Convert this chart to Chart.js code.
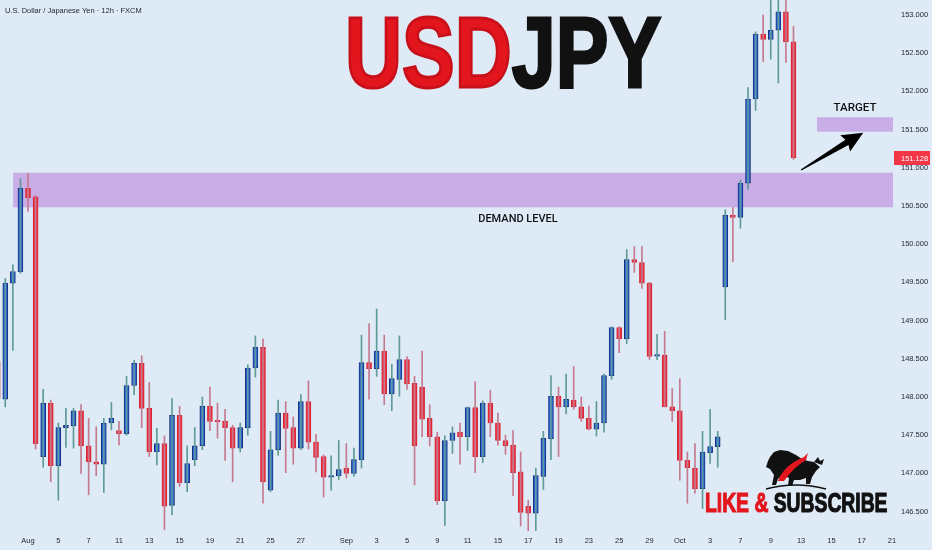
<!DOCTYPE html>
<html>
<head>
<meta charset="utf-8">
<script src="https://cdn.jsdelivr.net/npm/chart.js@4.4.1/dist/chart.umd.min.js"></script>
<style>
  html, body { margin: 0; padding: 0; background: #deebf7; }
  #wrap { position: relative; width: 932px; height: 550px; overflow: hidden; background: #deebf7; }
  #c { position: absolute; left: 0; top: 0; }
  .ov { position: absolute; white-space: nowrap; pointer-events: none; line-height: 1; }
  #sym { left: 5px; top: 6px; font: 7.5px "Liberation Sans", sans-serif; color: #1e222d; }
  #title { left: 345px; top: -5px; font: bold 100px "Liberation Sans", sans-serif; transform: scaleX(0.79); transform-origin: left top; -webkit-text-stroke: 3px currentColor; }
  #title .r { color: #e3161e; -webkit-text-stroke: 3px #c8101a; }
  #title .k { color: #111; }
  #demand { left: 518px; top: 212px; transform: translateX(-50%); font: 500 11px Roboto, sans-serif; color: #111; }
  #target { left: 855px; top: 100px; transform: translateX(-50%); font: 500 11.5px Roboto, sans-serif; color: #111; }
  #like { left: 705px; top: 487px; font: bold 28px "Liberation Sans", sans-serif; transform: scaleX(0.69); transform-origin: left top; -webkit-text-stroke: 1.2px currentColor; }
  #like .r { color: #e3161e; }
  #like .k { color: #111; }
  #icon { position: absolute; left: 764px; top: 447px; }
</style>
</head>
<body>
<div id="wrap">
  <canvas id="c" width="932" height="550"></canvas>
  <div class="ov" id="sym">U.S. Dollar / Japanese Yen · 12h · FXCM</div>
  <div class="ov" id="title"><span class="r">USD</span><span class="k">JPY</span></div>
  <div class="ov" id="demand">DEMAND LEVEL</div>
  <div class="ov" id="target">TARGET</div>
  <svg id="icon" width="64" height="44" viewBox="0 0 64 44">
    <path d="M6 10 L10 5 L16 3 L24 4 L32 8 L38 12 L44 14 L50 15 L56 20 L52 24 L48 30 L46 37 L42 37 L42 31 L36 33 L30 33 L28 39 L24 39 L25 31 L18 28 L14 32 L12 38 L8 38 L10 28 L6 22 L2 20 L4 14 Z" fill="#111"/>
    <path d="M14 34 Q20 18 40 10 L44 6 L42 13 Q30 20 20 34 Z" fill="#e3161e"/>
    <path d="M50 15 L54 10 L56 14 L60 12 L58 18 Z" fill="#111"/>
    <path d="M2 42 Q32 34 62 42" stroke="#111" stroke-width="1.5" fill="none"/>
  </svg>
  <div class="ov" id="like"><span class="r">LIKE &amp; </span><span class="k">SUBSCRIBE</span></div>
</div>
<script>
// OHLC de cada vela de 12h (índice 0 = primeira vela visível, fim de julho)
const opens  = [148.46,147.97,149.49,149.64,150.73,150.62,147.22,147.92,147.10,147.60,
                147.62,147.82,147.36,147.15,147.12,147.66,147.56,147.52,148.15,148.44,
                147.85,147.28,147.39,146.58,147.76,146.88,147.18,147.36,147.88,147.69,
                147.68,147.60,147.33,147.60,148.38,148.65,146.78,147.31,147.79,147.60,
                147.33,147.94,147.41,147.22,146.95,146.97,147.07,147.00,147.18,148.45,
                148.37,148.60,148.04,148.23,148.49,148.18,148.13,147.72,147.48,146.64,
                147.43,147.54,147.48,147.86,147.22,147.92,147.66,147.43,147.37,147.02,
                146.57,146.48,146.96,147.45,148.01,147.87,147.96,147.87,147.72,147.58,
                147.66,148.28,148.91,148.76,149.80,149.76,149.49,148.535,148.55,147.87,
                147.82,147.17,147.07,146.80,147.27,147.35,149.44,150.38,150.35,150.80,
                151.90,152.75,152.68,152.80,153.04,152.65];
const highs  = [148.55,149.55,149.73,150.86,150.93,150.64,148.10,147.96,147.66,147.85,
                147.85,147.90,147.72,147.61,147.72,147.93,147.68,148.27,148.48,148.54,
                148.19,147.59,147.49,147.98,147.88,147.36,147.60,148.00,148.13,147.92,
                147.84,147.63,147.66,148.42,148.80,148.76,147.55,147.96,147.94,147.74,
                148.03,148.21,147.51,147.24,147.23,147.43,147.39,147.33,148.81,148.96,
                149.15,148.81,148.43,148.80,148.53,148.27,148.60,147.90,147.54,147.49,
                147.61,147.66,147.87,148.20,147.95,148.09,147.79,147.50,147.56,147.28,
                146.65,147.07,147.55,148.28,148.13,148.30,148.40,148.00,147.88,147.94,
                148.30,148.92,148.92,149.93,149.97,149.97,149.50,148.82,148.86,148.11,
                148.24,147.28,147.39,147.55,147.84,147.55,150.45,150.48,150.84,152.05,
                152.78,153.00,153.26,153.26,153.20,152.85];
const lows   = [147.89,147.87,148.61,149.62,150.43,147.32,147.08,146.89,146.65,147.34,
                147.33,147.00,146.72,146.97,146.75,147.57,147.37,147.50,148.03,147.60,
                147.22,147.11,146.26,146.46,146.83,146.76,147.10,147.31,147.56,147.46,
                147.17,146.89,147.28,147.50,148.26,146.61,146.76,147.24,147.01,147.12,
                147.31,147.32,147.02,146.69,146.78,146.92,146.94,146.96,147.07,147.97,
                148.27,147.90,147.82,148.01,148.10,146.85,147.48,147.36,146.59,146.32,
                147.26,147.12,147.30,147.01,147.14,147.48,147.37,147.25,146.71,146.31,
                146.25,146.25,146.79,147.18,147.22,147.78,147.84,147.68,147.57,147.49,
                147.54,148.23,148.58,148.70,149.63,149.42,148.49,148.49,147.87,147.68,
                146.91,146.61,146.74,146.54,147.13,147.08,149.01,149.77,150.21,150.72,
                151.75,152.39,152.42,152.11,152.38,151.11];
const closes = [147.98,149.49,149.64,150.73,150.61,147.39,147.92,147.10,147.60,147.63,
                147.82,147.36,147.15,147.12,147.66,147.72,147.52,148.15,148.44,147.85,
                147.28,147.39,146.57,147.76,146.88,147.13,147.36,147.88,147.68,147.675,
                147.60,147.33,147.60,148.38,148.65,146.89,147.31,147.79,147.59,147.33,
                147.94,147.41,147.21,146.95,146.97,147.05,147.00,147.18,148.45,148.37,
                148.60,148.04,148.24,148.49,148.17,147.36,147.71,147.48,146.64,147.43,
                147.53,147.48,147.86,147.22,147.92,147.66,147.43,147.36,147.01,146.49,
                146.48,146.97,147.46,148.01,147.87,147.97,147.87,147.72,147.58,147.66,
                148.28,148.91,148.76,149.80,149.76,149.49,148.53,148.55,147.87,147.82,
                147.17,147.07,146.80,147.28,147.35,147.48,150.38,150.35,150.80,151.90,
                152.75,152.68,152.80,153.04,152.65,151.128];

// Rótulos do eixo do tempo (índice da vela onde cada data começa)
const tickIdx    = [4, 8, 12, 16, 20, 24, 28, 32, 36, 40, 46, 50, 54, 58, 62, 66, 70, 74, 78, 82, 86, 90, 94, 98, 102, 106, 110, 114, 118];
const tickLabels = ['Aug','5','7','11','13','15','19','21','25','27','Sep','3','5','9','11','15','17','19','23','25','29','Oct','3','7','9','13','15','17','21'];

// Zonas desenhadas (início em índice de vela, faixa de preço)
const zoneStart  = [2.05, 108.1];
const zoneTop    = [150.935, 151.661];
const zoneBottom = [150.483, 151.472];

// Seta até o alvo (índice, preço)
const arrowFrom = [106.0, 150.97];
const arrowTo   = [114.2, 151.46];

const upBody = '#2c63dc', upBorder = '#16307a', upWick = '#5f9a98';
const dnBody = '#f0303f', dnBorder = '#d42636', dnWick = '#c47a8e';
const isUp = closes.map((c, i) => c >= opens[i]);

const bodies = opens.map((o, i) => ({ x: i, y: [o, closes[i]] }));
const wicks  = lows.map((l, i) => ({ x: i, y: [l, highs[i]] }));

const drawings = {
  id: 'drawings',
  beforeDatasetsDraw(chart) {
    const { ctx, chartArea: a, scales: { x, y } } = chart;
    ctx.save();
    ctx.beginPath();
    ctx.rect(a.left, a.top, a.width, a.height);
    ctx.clip();
    ctx.fillStyle = 'rgba(178, 112, 214, 0.5)';
    zoneStart.forEach((s, k) => {
      const x1 = x.getPixelForValue(s);
      const y1 = y.getPixelForValue(zoneTop[k]);
      const y2 = y.getPixelForValue(zoneBottom[k]);
      ctx.fillRect(x1, y1, a.right - x1, y2 - y1);
    });
    ctx.restore();
  },
  afterDatasetsDraw(chart) {
    const { ctx, chartArea: a, scales: { x, y } } = chart;
    // seta
    const x1 = x.getPixelForValue(arrowFrom[0]), y1 = y.getPixelForValue(arrowFrom[1]);
    const x2 = x.getPixelForValue(arrowTo[0]),   y2 = y.getPixelForValue(arrowTo[1]);
    const ang = Math.atan2(y2 - y1, x2 - x1);
    const len = Math.hypot(x2 - x1, y2 - y1);
    ctx.save();
    ctx.translate(x1, y1);
    ctx.rotate(ang);
    ctx.fillStyle = '#000';
    ctx.beginPath();
    ctx.moveTo(0, -0.6);
    ctx.lineTo(len - 19, -3);
    ctx.lineTo(len - 21, -9.5);
    ctx.lineTo(len, 0);
    ctx.lineTo(len - 21, 9.5);
    ctx.lineTo(len - 19, 3);
    ctx.lineTo(0, 0.6);
    ctx.closePath();
    ctx.fill();
    ctx.restore();

    // etiqueta do último preço
    const last = closes[closes.length - 1];
    const py = y.getPixelForValue(last);
    ctx.save();
    ctx.fillStyle = '#f23645';
    ctx.fillRect(a.right + 1, py - 7, chart.width - a.right - 3, 14);
    ctx.fillStyle = '#fff';
    ctx.font = '7.5px "Liberation Sans", sans-serif';
    ctx.textBaseline = 'middle';
    ctx.fillText(last.toFixed(3), a.right + 8, py + 0.5);
    ctx.restore();
  }
};

new Chart(document.getElementById('c'), {
  type: 'bar',
  data: {
    datasets: [
      {
        label: 'wicks',
        data: wicks,
        grouped: false,
        clip: false,
        barThickness: 1,
        backgroundColor: isUp.map(u => u ? upWick : dnWick),
        borderWidth: 0
      },
      {
        label: 'bodies',
        data: bodies,
        grouped: false,
        barThickness: 5,
        minBarLength: 1.5,
        backgroundColor: isUp.map(u => u ? upBody : dnBody),
        borderColor: isUp.map(u => u ? upBorder : dnBorder),
        borderWidth: 1,
        borderSkipped: false
      }
    ]
  },
  options: {
    responsive: false,
    animation: false,
    layout: { padding: 0 },
    plugins: { legend: { display: false }, tooltip: { enabled: false } },
    scales: {
      x: {
        type: 'linear',
        min: 0.303,
        max: 118.13,
        offset: false,
        grid: { display: false, drawTicks: false },
        border: { display: false },
        afterBuildTicks: s => { s.ticks = tickIdx.map(v => ({ value: v })); },
        afterFit: s => { s.height = 19; },
        ticks: {
          autoSkip: false,
          maxRotation: 0,
          padding: 5,
          color: '#1e222d',
          font: { family: 'Liberation Sans', size: 7.5 },
          callback: (v, i) => tickLabels[i]
        }
      },
      y: {
        position: 'right',
        min: 146.246,
        max: 153.196,
        grid: { display: false, drawTicks: true, tickLength: 8 },
        border: { display: false },
        afterFit: s => { s.width = 39; s.paddingTop = 0; s.paddingBottom = 0; },
        ticks: {
          stepSize: 0.5,
          includeBounds: false,
          padding: 0,
          color: '#1e222d',
          font: { family: 'Liberation Sans', size: 7.5 },
          callback: v => v.toFixed(3)
        }
      }
    }
  },
  plugins: [drawings]
});
</script>
</body>
</html>
